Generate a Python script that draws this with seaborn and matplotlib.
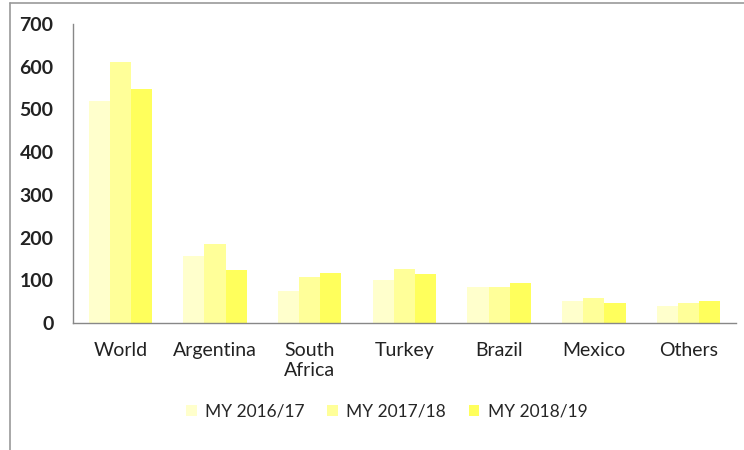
import matplotlib
matplotlib.use("Agg")

import pandas as pd
import matplotlib.pyplot as plt
import seaborn as sns
from matplotlib.lines import Line2D

# =============================================================================
# Data
# =============================================================================

categories = ["World", "Argentina", "South\nAfrica", "Turkey", "Brazil", "Mexico", "Others"]

my_2016_17 = [519, 158, 75, 101, 85, 52, 39]
my_2017_18 = [611, 186, 107, 126, 85, 58, 46]
my_2018_19 = [547, 123, 117, 114, 94, 47, 51]

series_names = ["MY 2016/17", "MY 2017/18", "MY 2018/19"]

y_ticks = [0, 100, 200, 300, 400, 500, 600, 700]

colors = ["#FFFFCC", "#FFFF99", "#FFFF5C"]

# =============================================================================
# Build long table
# =============================================================================

rows = []
for name, values in zip(series_names, [my_2016_17, my_2017_18, my_2018_19]):
    for cat, val in zip(categories, values):
        rows.append({"Country": cat, "Season": name, "Value": val})

df = pd.DataFrame(rows)

# =============================================================================
# Plot
# =============================================================================

sns.set_theme(style="white")
plt.rcParams["font.family"] = ["Lato", "DejaVu Sans"]

fig = plt.figure(figsize=(7.44, 4.5), dpi=100)
ax = fig.add_axes([0.0981, 0.2822, 0.8909, 0.6645])

sns.barplot(
    data=df,
    x="Country",
    y="Value",
    hue="Season",
    order=categories,
    hue_order=series_names,
    palette=colors,
    saturation=1,
    width=0.67,
    gap=0,
    linewidth=0,
    ax=ax,
)

ax.set_ylim(0, 700)
ax.set_xlim(-0.5, len(categories) - 0.5)
ax.set_yticks(y_ticks)
ax.set_yticklabels([str(t) for t in y_ticks], fontsize=14, fontweight="bold", color="#222222")

# category boundary ticks on x axis
ax.set_xticks([i - 0.5 for i in range(len(categories) + 1)], minor=False)
ax.set_xticklabels([])
ax.set_xticks(range(len(categories)), minor=True)
ax.set_xticklabels(categories, minor=True, fontsize=14, color="#222222")
ax.tick_params(axis="x", which="major", direction="out", length=6, width=1, color="#888888")
ax.tick_params(axis="x", which="minor", length=0, pad=14)
ax.tick_params(axis="y", direction="out", length=6, width=1, color="#888888", pad=8)

ax.set_xlabel("")
ax.set_ylabel("")

for side in ["top", "right"]:
    ax.spines[side].set_visible(False)
for side in ["left", "bottom"]:
    ax.spines[side].set_color("#888888")
    ax.spines[side].set_linewidth(1)

# legend
ax.legend_.remove()
handles = [
    plt.Rectangle((0, 0), 1, 1, facecolor=c, edgecolor="none")
    for c in colors
]
fig.legend(
    handles,
    series_names,
    loc="center",
    bbox_to_anchor=(0.52, 0.085),
    ncol=3,
    frameon=False,
    fontsize=12.5,
    handlelength=0.6,
    handleheight=0.6,
    handletextpad=0.5,
    columnspacing=1.3,
)

# outer frame (left and top edges visible)
fig.add_artist(Line2D([10 / 744, 10 / 744], [0, 1 - 3 / 450], color="#999999", linewidth=1.2))
fig.add_artist(Line2D([10 / 744, 1], [1 - 3 / 450, 1 - 3 / 450], color="#999999", linewidth=1.2))

fig.savefig("out.png", dpi=100)
plt.close(fig)
